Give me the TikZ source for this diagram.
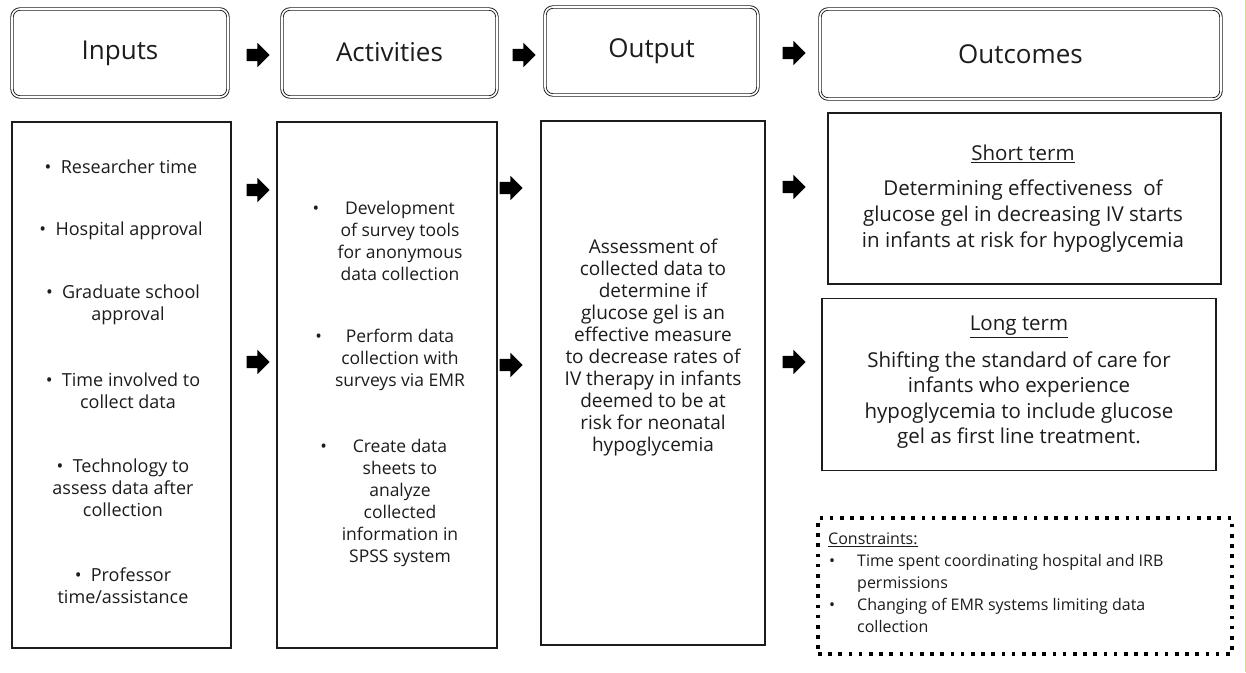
\documentclass[tikz,border=0pt]{standalone}
\usepackage{fontspec}
\setmainfont{Open Sans}
\usetikzlibrary{shapes.arrows}
\definecolor{ink}{HTML}{1C1C1C}
\begin{document}
\begin{tikzpicture}[x=1pt,y=-1pt,
  hdr/.style={draw=ink, double, double distance=1.6pt, line width=0.9pt, rounded corners=8pt,
    minimum width=#1, minimum height=88pt, inner sep=0pt, text=ink, font=\fontsize{26}{30}\selectfont},
  bodybox/.style={draw=ink, line width=1.4pt, inner sep=0pt},
  txt/.style={align=center, text=ink, inner sep=0pt, font=\fontsize{18}{22}\selectfont},
  blockarrow/.style={single arrow, fill=black, draw=none, minimum height=23pt, minimum width=24pt,
    text height=6pt, text depth=6pt, text width=0pt,
    single arrow head extend=6pt, inner sep=0pt, anchor=center}
]
\useasboundingbox (0,0) rectangle (1246,672);
\fill[white] (0,0) rectangle (1246,672);
\draw[yellow!85!orange, line width=1.2pt] (1245.4,0) -- (1245.4,672);

% headers
\node[hdr=216pt] (hin) at (120,53) {\raisebox{2pt}{Inputs}};
\node[hdr=215pt] (hact) at (389.5,53) {\raisebox{3pt}{Activities}};
\node[hdr=213pt] (hout) at (651.5,51) {\raisebox{4pt}{Output}};
\node[hdr=401pt, minimum height=90pt] (hoc) at (1020.5,54) {Outcomes};

% header arrows
\node[blockarrow] (ha1) at (255,55) {};
\node[blockarrow] (ha2) at (521,55) {};
\node[blockarrow] (ha3) at (791,53) {};

% body boxes
\node[bodybox, minimum width=219pt, minimum height=526pt] (bin) at (121.5,385) {};
\node[bodybox, minimum width=220pt, minimum height=526pt] (bact) at (387,385) {};
\node[bodybox, minimum width=224pt, minimum height=524pt] (bout) at (653,383) {};
\node[bodybox, minimum width=393pt, minimum height=171pt] (short) at (1024.5,198.5) {};
\node[bodybox, minimum width=394pt, minimum height=172pt] (long) at (1019,384.5) {};
\node[draw=black, line width=3.6pt, dash pattern=on 3.6pt off 6.6pt, minimum width=414pt, minimum height=136pt, inner sep=0pt] (cons) at (1025,586) {};

% body arrows
\node[blockarrow] (ba1) at (255,190) {};
\node[blockarrow] (ba2) at (255,362) {};
\node[blockarrow] (ba3) at (508,188) {};
\node[blockarrow] (ba4) at (508,365) {};
\node[blockarrow] (ba5) at (791,187) {};
\node[blockarrow] (ba6) at (791,362) {};

% inputs text
\node[txt] (i1) at (121,167) {\textbullet\ \ Researcher time};
\node[txt] (i2) at (121,231) {\textbullet\ \ Hospital approval};
\node[txt] (i3) at (123,304.5) {\textbullet\ \ Graduate school\\ \hspace*{10pt}approval};
\node[txt] (i4) at (123,390.5) {\textbullet\ \ Time involved to\\ \hspace*{10pt}collect data};
\node[txt] (i5) at (123,488) {\textbullet\ \ Technology to\\ assess data after\\ collection};
\node[txt] (i6) at (123,586) {\textbullet\ \ Professor\\ time/assistance};

% activities text
\node[txt, font=\fontsize{17.5}{22}\selectfont] (a1) at (400,240.5) {\llap{\textbullet\hspace{26pt}}Development\\ of survey tools\\ for anonymous\\ data collection};
\node[txt, font=\fontsize{17.5}{22}\selectfont] (a2) at (400,360) {\llap{\textbullet\hspace{24pt}}Perform data\\ collection with\\ surveys via EMR};
\node[txt, font=\fontsize{17.5}{22}\selectfont] (a3) at (400,502.5) {\llap{\textbullet\hspace{26pt}}Create data\\ sheets to\\ analyze\\ collected\\ information in\\ SPSS system};

% output text
\node[txt, font=\fontsize{19}{22}\selectfont] (o1) at (653,348) {Assessment of\\ collected data to\\ determine if\\ glucose gel is an\\ effective measure\\ to decrease rates of\\ IV therapy in infants\\ deemed to be at\\ risk for neonatal\\ hypoglycemia};

% outcomes text
\node[txt, font=\fontsize{20.5}{26}\selectfont] (st) at (1023,154) {\underline{Short term}};
\node[txt, font=\fontsize{20.5}{26}\selectfont] (sb) at (1023,216) {Determining effectiveness\ \ of\\ glucose gel in decreasing IV starts\\ in infants at risk for hypoglycemia};
\node[txt, font=\fontsize{20.5}{25.3}\selectfont] (lt) at (1019,327) {\underline{Long term}};
\node[txt, font=\fontsize{20.5}{25.3}\selectfont] (lb) at (1019,400) {Shifting the standard of care for\\ infants who experience\\ hypoglycemia to include glucose\\ gel as first line treatment.};

% constraints
\node[txt, align=left, anchor=west, font=\fontsize{16}{22}\selectfont] (ct) at (828,540) {\underline{Constraints:}};
\node[txt, align=left, anchor=north west, font=\fontsize{16}{22}\selectfont] (cl) at (829,554) {\makebox[28pt][l]{\textbullet}Time spent coordinating hospital and IRB\\ \hspace*{28pt}permissions\\ \makebox[28pt][l]{\textbullet}Changing of EMR systems limiting data\\ \hspace*{28pt}collection};
\end{tikzpicture}
\end{document}
